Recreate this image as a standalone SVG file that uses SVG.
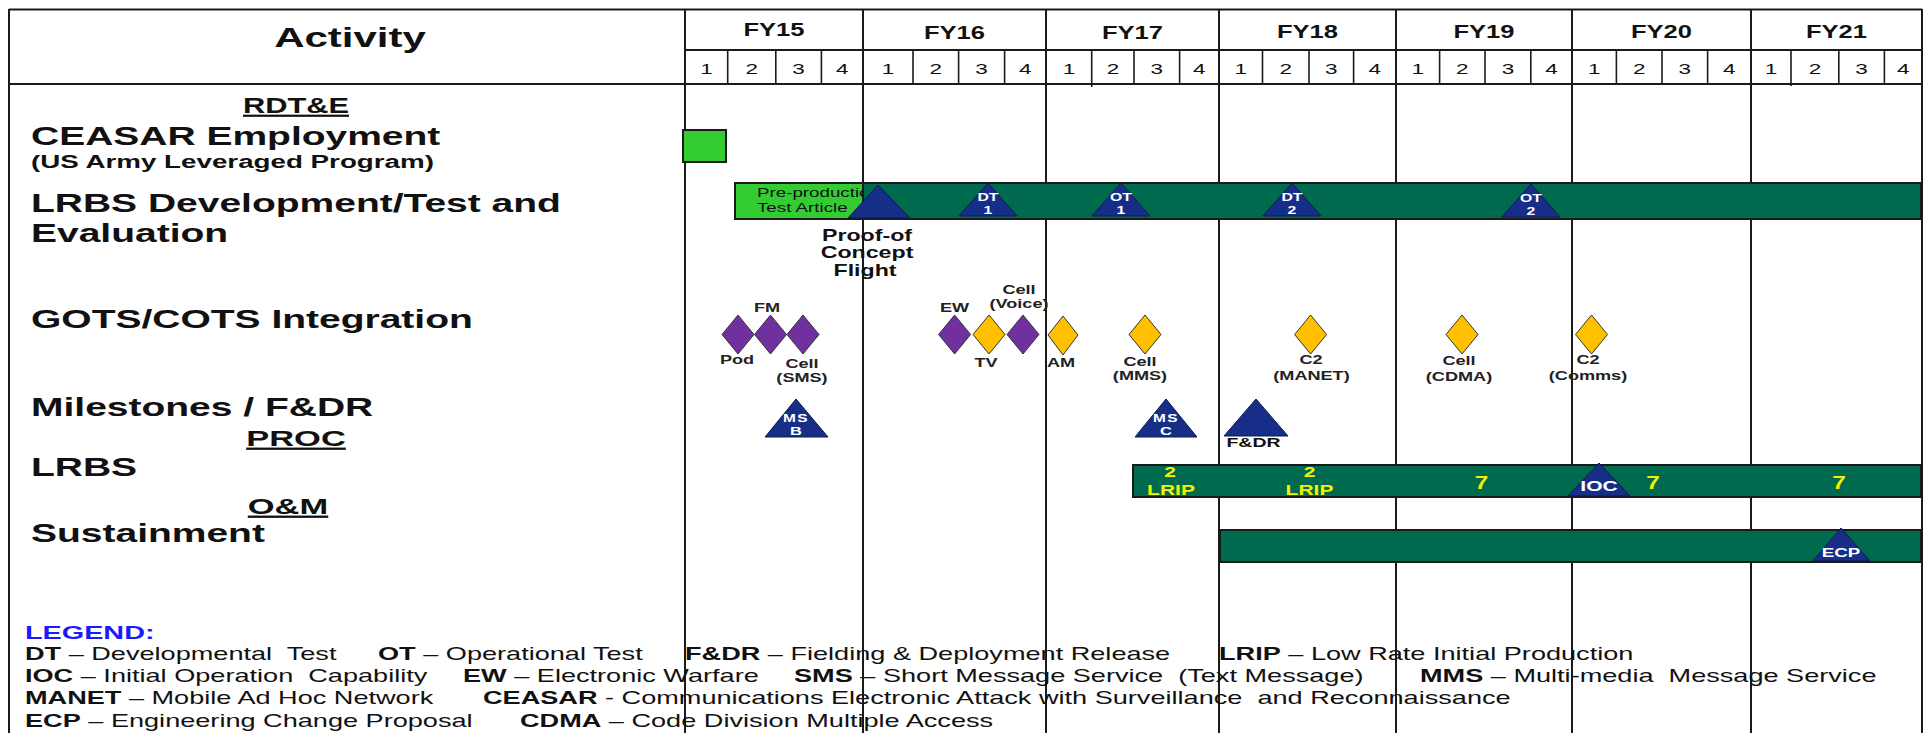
<svg xmlns="http://www.w3.org/2000/svg" width="1927" height="733" viewBox="0 0 1927 733">
<style>
text{font-family:"Liberation Sans",Arial,sans-serif;fill:#111;}
.b{font-weight:bold}
.m{text-anchor:middle}
text.w{fill:#fff}
.y text{fill:#F2F200}
.u{text-decoration:underline}
.lg{font-size:17.5px;white-space:pre}
.row{font-size:26px;font-weight:bold}
.lab{font-size:12.5px;font-weight:bold;text-anchor:middle;fill:#222}
.grid line{stroke:#1a1a1a;stroke-width:2}
.q line{stroke:#1a1a1a;stroke-width:1.6}
.bar{fill:#006A4E;stroke:#1a1a1a;stroke-width:2}
.lgreen{fill:#33CC33;stroke:#1a1a1a;stroke-width:2}
.tri{fill:#172E88;stroke:#0d1a4d;stroke-width:1}
.dp{fill:#7030A0;stroke:#333;stroke-width:1}
.dy{fill:#FFC000;stroke:#333;stroke-width:1}
text.legendtitle{fill:#1a1aff}
</style>
<rect width="1927" height="733" fill="#fff"/>
<g id="grid" class="grid">
<line x1="9" y1="9.5" x2="1922" y2="9.5"/>
<line x1="9" y1="9" x2="9" y2="733"/>
<line x1="1922" y1="9" x2="1922" y2="733"/>
<line x1="9" y1="84" x2="1922" y2="84"/>
<line x1="685" y1="50" x2="1922" y2="50"/>
<line x1="685" y1="9" x2="685" y2="733"/>
<line x1="863" y1="9" x2="863" y2="733"/>
<line x1="1046" y1="9" x2="1046" y2="733"/>
<line x1="1219" y1="9" x2="1219" y2="733"/>
<line x1="1396" y1="9" x2="1396" y2="733"/>
<line x1="1572" y1="9" x2="1572" y2="733"/>
<line x1="1751" y1="9" x2="1751" y2="733"/>
</g>
<g id="quarters" class="q">
<line x1="727.7" y1="50" x2="727.7" y2="84"/><line x1="775.8" y1="50" x2="775.8" y2="84"/><line x1="821.4" y1="50" x2="821.4" y2="84"/>
<line x1="913" y1="50" x2="913" y2="84"/><line x1="958.6" y1="50" x2="958.6" y2="84"/><line x1="1004.6" y1="50" x2="1004.6" y2="84"/>
<line x1="1091.7" y1="50" x2="1091.7" y2="87"/><line x1="1134" y1="50" x2="1134" y2="84"/><line x1="1179.6" y1="50" x2="1179.6" y2="84"/>
<line x1="1262.5" y1="50" x2="1262.5" y2="84"/><line x1="1309" y1="50" x2="1309" y2="84"/><line x1="1353.6" y1="50" x2="1353.6" y2="84"/>
<line x1="1439.6" y1="50" x2="1439.6" y2="84"/><line x1="1485" y1="50" x2="1485" y2="84"/><line x1="1530.8" y1="50" x2="1530.8" y2="84"/>
<line x1="1616.4" y1="50" x2="1616.4" y2="84"/><line x1="1662" y1="50" x2="1662" y2="84"/><line x1="1707.6" y1="50" x2="1707.6" y2="84"/>
<line x1="1791" y1="50" x2="1791" y2="86"/><line x1="1838.8" y1="50" x2="1838.8" y2="84"/><line x1="1884.4" y1="50" x2="1884.4" y2="84"/>
</g>
<g id="header">
<text class="b m" font-size="28" transform="translate(350 47) scale(1.5 1)">Activity</text>
<g class="b m" font-size="18">
<text transform="translate(774 36) scale(1.42 1)">FY15</text>
<text transform="translate(954.5 38.5) scale(1.42 1)">FY16</text>
<text transform="translate(1132.5 38.5) scale(1.42 1)">FY17</text>
<text transform="translate(1307.5 38) scale(1.42 1)">FY18</text>
<text transform="translate(1484 38) scale(1.42 1)">FY19</text>
<text transform="translate(1661.5 38) scale(1.42 1)">FY20</text>
<text transform="translate(1836.5 38) scale(1.42 1)">FY21</text>
</g>
<g class="m" font-size="15">
<text transform="translate(706.4 74) scale(1.5 1)">1</text><text transform="translate(751.8 74) scale(1.5 1)">2</text><text transform="translate(798.6 74) scale(1.5 1)">3</text><text transform="translate(842.2 74) scale(1.5 1)">4</text>
<text transform="translate(888 74) scale(1.5 1)">1</text><text transform="translate(935.8 74) scale(1.5 1)">2</text><text transform="translate(981.6 74) scale(1.5 1)">3</text><text transform="translate(1025.3 74) scale(1.5 1)">4</text>
<text transform="translate(1068.9 74) scale(1.5 1)">1</text><text transform="translate(1112.9 74) scale(1.5 1)">2</text><text transform="translate(1156.8 74) scale(1.5 1)">3</text><text transform="translate(1199.3 74) scale(1.5 1)">4</text>
<text transform="translate(1240.8 74) scale(1.5 1)">1</text><text transform="translate(1285.8 74) scale(1.5 1)">2</text><text transform="translate(1331.3 74) scale(1.5 1)">3</text><text transform="translate(1374.8 74) scale(1.5 1)">4</text>
<text transform="translate(1417.8 74) scale(1.5 1)">1</text><text transform="translate(1462.3 74) scale(1.5 1)">2</text><text transform="translate(1507.9 74) scale(1.5 1)">3</text><text transform="translate(1551.4 74) scale(1.5 1)">4</text>
<text transform="translate(1594.2 74) scale(1.5 1)">1</text><text transform="translate(1639.2 74) scale(1.5 1)">2</text><text transform="translate(1684.8 74) scale(1.5 1)">3</text><text transform="translate(1729.3 74) scale(1.5 1)">4</text>
<text transform="translate(1771 74) scale(1.5 1)">1</text><text transform="translate(1814.9 74) scale(1.5 1)">2</text><text transform="translate(1861.6 74) scale(1.5 1)">3</text><text transform="translate(1903.2 74) scale(1.5 1)">4</text>
</g>
</g>
<g id="activity-labels">
<text class="b m u" font-size="22" transform="translate(296 113) scale(1.4 1)">RDT&amp;E</text>
<text class="row" transform="translate(31 145) scale(1.5 1)">CEASAR Employment</text>
<text class="b" font-size="18.5" transform="translate(31 168) scale(1.5 1)">(US Army Leveraged Program)</text>
<text class="row" transform="translate(31 212) scale(1.5 1)">LRBS Development/Test and</text>
<text class="row" transform="translate(31 242) scale(1.5 1)">Evaluation</text>
<text class="row" transform="translate(31 328) scale(1.5 1)">GOTS/COTS Integration</text>
<text class="row" transform="translate(31 415.5) scale(1.5 1)">Milestones / F&amp;DR</text>
<text class="b m u" font-size="23" transform="translate(296 446) scale(1.5 1)">PROC</text>
<text class="row" transform="translate(31 475.5) scale(1.5 1)">LRBS</text>
<text class="b m u" font-size="23" transform="translate(288 514) scale(1.5 1)">O&amp;M</text>
<text class="row" transform="translate(31 542) scale(1.5 1)">Sustainment</text>
</g>
<g id="ceasar-box"><rect class="lgreen" x="683" y="130" width="43" height="32"/></g>
<g id="preproduction">
<rect class="lgreen" x="735" y="183" width="128" height="36"/>
<text font-size="12.5" transform="translate(757 197) scale(1.5 1)">Pre-production</text>
<text font-size="12.5" transform="translate(757 211.5) scale(1.5 1)">Test Article</text>
</g>
<g id="lrbs-dev-bar"><rect class="bar" x="863" y="183" width="1058" height="36"/></g>
<g id="proof-of-concept">
<polygon class="tri" points="848,218 878,185 910,218"/>
<g class="b m" font-size="16">
<text transform="translate(867 240.5) scale(1.45 1)">Proof-of</text>
<text transform="translate(867 258) scale(1.45 1)">Concept</text>
<text transform="translate(865 275.5) scale(1.45 1)">Flight</text>
</g>
</g>
<g id="dt1"><polygon class="tri" points="959,216 988,183 1017,216"/><text class="b m w" font-size="10.5" transform="translate(988 201) scale(1.5 1)">DT</text><text class="b m w" font-size="10.5" transform="translate(988 214) scale(1.5 1)">1</text></g>
<g id="ot1"><polygon class="tri" points="1092,216 1121,183 1150,216"/><text class="b m w" font-size="10.5" transform="translate(1121 201) scale(1.5 1)">OT</text><text class="b m w" font-size="10.5" transform="translate(1121 214) scale(1.5 1)">1</text></g>
<g id="dt2"><polygon class="tri" points="1263,216 1292,183 1321,216"/><text class="b m w" font-size="10.5" transform="translate(1292 201) scale(1.5 1)">DT</text><text class="b m w" font-size="10.5" transform="translate(1292 214) scale(1.5 1)">2</text></g>
<g id="ot2"><polygon class="tri" points="1502,217 1531,184 1560,217"/><text class="b m w" font-size="10.5" transform="translate(1531 202) scale(1.5 1)">OT</text><text class="b m w" font-size="10.5" transform="translate(1531 215) scale(1.5 1)">2</text></g>
<g id="gots">
<path class="dp" d="M738 315 L754 334.5 L738 354 L722 334.5Z"/>
<path class="dp" d="M770.5 315 L786.5 334.5 L770.5 354 L754.5 334.5Z"/>
<path class="dp" d="M803 315 L819 334.5 L803 354 L787 334.5Z"/>
<path class="dp" d="M954.6 315 L970.6 334.5 L954.6 354 L938.6 334.5Z"/>
<path class="dy" d="M989 315 L1005 334.5 L989 354 L973 334.5Z"/>
<path class="dp" d="M1023 315 L1039 334.5 L1023 354 L1007 334.5Z"/>
<path class="dy" d="M1063 316 L1078 335 L1063 355 L1048 335Z"/>
<path class="dy" d="M1145 315 L1161 334.5 L1145 354 L1129 334.5Z"/>
<path class="dy" d="M1310.6 315 L1326.6 334.5 L1310.6 354 L1294.6 334.5Z"/>
<path class="dy" d="M1462 315 L1478 334.5 L1462 354 L1446 334.5Z"/>
<path class="dy" d="M1591.5 315 L1607.5 334.5 L1591.5 354 L1575.5 334.5Z"/>
<text class="lab" transform="translate(767 312) scale(1.45 1)">FM</text>
<text class="lab" transform="translate(737 364) scale(1.45 1)">Pod</text>
<text class="lab" transform="translate(802 368) scale(1.45 1)">Cell</text>
<text class="lab" transform="translate(802 382) scale(1.45 1)">(SMS)</text>
<text class="lab" transform="translate(954.5 312) scale(1.45 1)">EW</text>
<text class="lab" transform="translate(1019 294) scale(1.45 1)">Cell</text>
<text class="lab" transform="translate(1019 307.5) scale(1.45 1)">(Voice)</text>
<text class="lab" transform="translate(986 367) scale(1.45 1)">TV</text>
<text class="lab" transform="translate(1061 367) scale(1.45 1)">AM</text>
<text class="lab" transform="translate(1140 366) scale(1.45 1)">Cell</text>
<text class="lab" transform="translate(1140 380) scale(1.45 1)">(MMS)</text>
<text class="lab" transform="translate(1311 364) scale(1.45 1)">C2</text>
<text class="lab" transform="translate(1311.5 380) scale(1.45 1)">(MANET)</text>
<text class="lab" transform="translate(1459 365) scale(1.45 1)">Cell</text>
<text class="lab" transform="translate(1459 380.5) scale(1.45 1)">(CDMA)</text>
<text class="lab" transform="translate(1588 364) scale(1.45 1)">C2</text>
<text class="lab" transform="translate(1588 380) scale(1.45 1)">(Comms)</text>
</g>
<g id="ms-b"><polygon class="tri" points="765,437 796,399 828,437"/><text class="b m w" font-size="11" letter-spacing="1" transform="translate(796 422) scale(1.4 1)">MS</text><text class="b m w" font-size="11" transform="translate(796 435) scale(1.5 1)">B</text></g>
<g id="ms-c"><polygon class="tri" points="1135,437 1166,399 1197,437"/><text class="b m w" font-size="11" letter-spacing="1" transform="translate(1166 422) scale(1.4 1)">MS</text><text class="b m w" font-size="11" transform="translate(1166 435) scale(1.5 1)">C</text></g>
<g id="fdr"><polygon class="tri" points="1224,436 1256,399 1288,436"/><text class="b m" font-size="13" transform="translate(1253.5 447) scale(1.5 1)">F&amp;DR</text></g>
<g id="lrbs-bar">
<rect class="bar" x="1133" y="465" width="788" height="32"/>
<g class="b m y" font-size="14">
<text transform="translate(1170 477) scale(1.5 1)">2</text><text transform="translate(1171 495) scale(1.5 1)">LRIP</text>
<text transform="translate(1309.5 477) scale(1.5 1)">2</text><text transform="translate(1309.5 495) scale(1.5 1)">LRIP</text>
</g>
<g class="b m y" font-size="18">
<text transform="translate(1481.5 489) scale(1.35 1)">7</text>
<text transform="translate(1653 489) scale(1.35 1)">7</text>
<text transform="translate(1839 489) scale(1.35 1)">7</text>
</g>
</g>
<g id="ioc"><polygon class="tri" points="1568,496 1599,463 1630,496"/><text class="b m w" font-size="14" transform="translate(1599 490.5) scale(1.5 1)">IOC</text></g>
<g id="sustainment-bar"><rect class="bar" x="1220" y="530" width="701" height="32"/></g>
<g id="ecp"><polygon class="tri" points="1813,561 1841,528 1870,561"/><text class="b m w" font-size="12.5" transform="translate(1841 557) scale(1.5 1)">ECP</text></g>
<g id="legend">
<text class="b legendtitle" font-size="18" transform="translate(25 639) scale(1.6 1)">LEGEND:</text>
<text class="lg" transform="translate(25 659.5) scale(1.55 1)"><tspan class="b">DT</tspan> – Developmental  Test</text>
<text class="lg" transform="translate(378 659.5) scale(1.55 1)"><tspan class="b">OT</tspan> – Operational Test</text>
<text class="lg" transform="translate(685 659.5) scale(1.55 1)"><tspan class="b">F&amp;DR</tspan> – Fielding &amp; Deployment Release</text>
<text class="lg" transform="translate(1219 659.5) scale(1.55 1)"><tspan class="b">LRIP</tspan> – Low Rate Initial Production</text>
<text class="lg" transform="translate(25 682) scale(1.55 1)"><tspan class="b">IOC</tspan> – Initial Operation  Capability</text>
<text class="lg" transform="translate(463 682) scale(1.55 1)"><tspan class="b">EW</tspan> – Electronic Warfare</text>
<text class="lg" transform="translate(794 682) scale(1.55 1)"><tspan class="b">SMS</tspan> – Short Message Service  (Text Message)</text>
<text class="lg" transform="translate(1420 682) scale(1.55 1)"><tspan class="b">MMS</tspan> – Multi-media  Message Service</text>
<text class="lg" transform="translate(25 704) scale(1.55 1)"><tspan class="b">MANET</tspan> – Mobile Ad Hoc Network</text>
<text class="lg" transform="translate(483 704) scale(1.55 1)"><tspan class="b">CEASAR</tspan> - Communications Electronic Attack with Surveillance  and Reconnaissance</text>
<text class="lg" transform="translate(25 726.5) scale(1.55 1)"><tspan class="b">ECP</tspan> – Engineering Change Proposal</text>
<text class="lg" transform="translate(520 726.5) scale(1.55 1)"><tspan class="b">CDMA</tspan> – Code Division Multiple Access</text>
</g>
<g id="connectors"></g>
</svg>
